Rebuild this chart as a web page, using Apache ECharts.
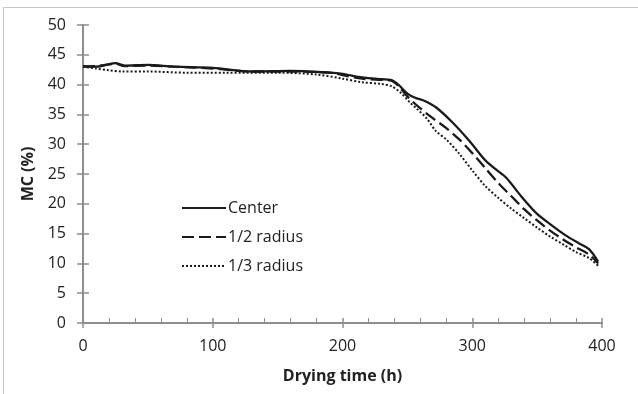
<!DOCTYPE html>
<html><head><meta charset="utf-8">
<script src="https://cdn.jsdelivr.net/npm/echarts@6/dist/echarts.min.js"></script>
<style>html,body{margin:0;padding:0;background:#fff}#c{width:638px;height:394px}</style>
</head><body><div id="c"></div>
<script>
const seriesNames = ['Center', '1/2 radius', '1/3 radius'];
const xTicks = [0, 100, 200, 300, 400];
const yTicks = [0, 5, 10, 15, 20, 25, 30, 35, 40, 45, 50];
const centerT = [0, 10, 18, 25, 32, 50, 70, 100, 130, 160, 190, 200, 215, 230, 237, 243, 250, 256, 263, 272, 285, 298, 310, 318, 326, 338, 350, 360, 372, 382, 390, 397];
const centerV = [43.1, 43.0, 43.3, 43.6, 43.2, 43.3, 43.0, 42.8, 42.2, 42.3, 42.0, 41.8, 41.2, 40.9, 40.8, 40.0, 38.5, 37.8, 37.3, 36.2, 33.6, 30.5, 27.3, 25.8, 24.4, 21.2, 18.3, 16.6, 14.7, 13.4, 12.4, 10.3];
const halfT = [0, 10, 20, 25, 32, 50, 70, 100, 130, 160, 190, 200, 215, 230, 237, 243, 250, 260, 270, 280, 290, 300, 310, 320, 330, 340, 350, 360, 370, 380, 390, 397];
const halfV = [43.0, 43.1, 43.4, 43.5, 43.1, 43.2, 43.0, 42.7, 42.2, 42.2, 42.0, 41.6, 41.0, 40.8, 40.7, 39.8, 38.0, 36.0, 34.3, 32.7, 30.8, 28.5, 26.0, 23.5, 21.3, 19.1, 17.2, 15.5, 14.0, 12.7, 11.5, 10.0];
const thirdT = [0, 10, 20, 30, 50, 80, 110, 150, 180, 200, 215, 230, 238, 245, 252, 258, 265, 272, 280, 290, 300, 310, 320, 330, 340, 350, 360, 370, 380, 390, 397];
const thirdV = [43.0, 42.7, 42.4, 42.2, 42.2, 42.0, 42.0, 42.0, 41.7, 41.0, 40.4, 40.1, 39.7, 38.6, 37.0, 35.8, 34.3, 32.2, 30.8, 28.4, 25.6, 23.0, 21.0, 19.2, 17.6, 16.0, 14.5, 13.2, 11.9, 10.9, 9.6];

const zip = (t, v) => t.map((x, i) => [x, v[i]]);
const axisColor = '#8e8e8e';
const font = 'Open Sans';
const chart = echarts.init(document.getElementById('c'), null, {renderer: 'canvas'});
const lineStyles = [
  {color: '#1a1a1a', width: 2.3, type: 'solid'},
  {color: '#1a1a1a', width: 2.3, type: [12, 5]},
  {color: '#1a1a1a', width: 2, type: [2, 2]}
];
const datas = [zip(centerT, centerV), zip(halfT, halfV), zip(thirdT, thirdV)];
chart.setOption({
  animation: false,
  backgroundColor: '#fff',
  graphic: [{type: 'rect', shape: {x: 3.5, y: 7.5, width: 700, height: 500}, style: {fill: 'none', stroke: '#c4c4c4', lineWidth: 1}}],
  grid: {left: 83, right: 36, top: 25, bottom: 71},
  legend: {
    orient: 'vertical', left: 176, top: 195, itemWidth: 44, itemHeight: 10, itemGap: 13,
    data: seriesNames,
    itemStyle: {opacity: 0},
    textStyle: {fontFamily: font, fontSize: 16, color: '#222', padding: [0, 0, 0, -3]}
  },
  xAxis: [{
    type: 'value', min: xTicks[0], max: xTicks[xTicks.length - 1], interval: 100,
    axisLine: {lineStyle: {color: axisColor, width: 2}},
    axisTick: {show: true, inside: false, length: 5, lineStyle: {color: axisColor, width: 1.5}},
    minorTick: {show: false},
    splitLine: {show: false},
    axisLabel: {fontFamily: font, fontSize: 16, color: '#222', margin: 15},
    name: 'Drying time (h)', nameLocation: 'middle', nameGap: 45,
    nameTextStyle: {fontFamily: font, fontSize: 16, fontWeight: 'bold', color: '#222'}
  }, {
    type: 'value', min: xTicks[0], max: xTicks[xTicks.length - 1], interval: 100, position: 'bottom',
    axisLine: {show: false},
    axisTick: {show: true, inside: true, length: 5, lineStyle: {color: axisColor, width: 1.5}},
    minorTick: {show: true, splitNumber: 5, length: 5, lineStyle: {color: axisColor, width: 1}},
    splitLine: {show: false}, axisLabel: {show: false}
  }],
  yAxis: [{
    type: 'value', min: yTicks[0], max: yTicks[yTicks.length - 1], interval: 5,
    axisLine: {show: true, lineStyle: {color: axisColor, width: 2}},
    axisTick: {show: true, inside: false, length: 6, lineStyle: {color: axisColor, width: 1.5}},
    splitLine: {show: false},
    axisLabel: {fontFamily: font, fontSize: 16, color: '#222', margin: 17},
    name: 'MC (%)', nameLocation: 'middle', nameGap: 39, nameRotate: 90,
    nameTextStyle: {fontFamily: font, fontSize: 16, fontWeight: 'bold', color: '#222'}
  }, {
    type: 'value', min: yTicks[0], max: yTicks[yTicks.length - 1], interval: 5, position: 'left',
    axisLine: {show: false},
    axisTick: {show: true, inside: true, length: 6, lineStyle: {color: axisColor, width: 1.5}},
    splitLine: {show: false}, axisLabel: {show: false}
  }],
  series: seriesNames.map((n, i) => ({
    name: n, type: 'line', xAxisIndex: 0, yAxisIndex: 0, data: datas[i],
    showSymbol: false, symbol: 'none', smooth: 0.3,
    lineStyle: lineStyles[i], itemStyle: {color: '#1a1a1a'}
  }))
});
</script></body></html>
